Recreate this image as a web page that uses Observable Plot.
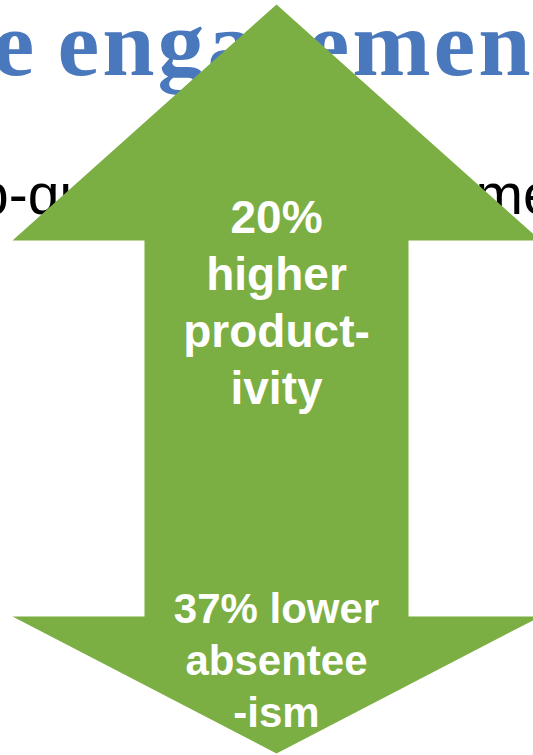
<!DOCTYPE html>
<html>
<head>
<meta charset="utf-8">
<script src="https://cdn.jsdelivr.net/npm/d3@7"></script>
<script src="https://cdn.jsdelivr.net/npm/@observablehq/plot@0.6"></script>
<style>
  html, body { margin: 0; padding: 0; background: #ffffff; }
  #chart svg { display: block; }
</style>
</head>
<body>
<div id="chart"></div>
<script>
// Headline words and sub-line fragments behind the arrow
const headlineWords = ["e", "engagement"];
const subLineLeft = "top-qu";
const subLineRight = "me";

// Outcome figures shown on the arrow
const productivityGain = 20;   // % higher productivity
const absenteeismDrop = 37;    // % lower absenteeism

const upperLabel = [`${productivityGain}%`, "higher", "product-", "ivity"];
const lowerLabel = [`${absenteeismDrop}% lower`, "absentee", "-ism"];

// Double-headed arrow outline (page units, y grows downward)
const arrowX = [276, 540, 408, 408, 540, 276, 12, 144, 144, 12];
const arrowY = [4, 240, 240, 616, 616, 753, 616, 616, 240, 240];

const W = 533, H = 755;
const green = "#7bae43";
const blue = "#4a78bd";

const arrow = arrowX.map((x, i) => ({x, y: arrowY[i]}));

// Word and line layout
const headlineStarts = [-8, 57];
const headline = headlineWords.map((t, i) => ({t, x: headlineStarts[i]}));
const upperLines = upperLabel.map((t, i) => ({t, y: 232 + i * 57}));
const lowerLines = lowerLabel.map((t, i) => ({t, y: 622 + i * 52}));

const sans = "Liberation Sans, Arial, sans-serif";

const chart = Plot.plot({
  width: W,
  height: H,
  margin: 0,
  style: "overflow: hidden; background: #ffffff;",
  x: {domain: [0, W], range: [0, W], axis: null},
  y: {domain: [0, H], range: [0, H], axis: null},
  marks: [
    Plot.text(headline, {
      x: "x", y: () => 74, text: "t",
      textAnchor: "start", lineAnchor: "bottom",
      fontFamily: "Liberation Serif, Times New Roman, serif",
      fontWeight: "bold", fontSize: 94, fill: blue
    }),
    Plot.text([subLineLeft], {
      x: () => -71, y: () => 213, text: d => d,
      textAnchor: "start", lineAnchor: "bottom",
      fontFamily: sans, fontSize: 57, fill: "#000000"
    }),
    Plot.text([subLineRight], {
      x: () => 475, y: () => 213, text: d => d,
      textAnchor: "start", lineAnchor: "bottom",
      fontFamily: sans, fontSize: 57, fill: "#000000"
    }),
    Plot.line(arrow, {x: "x", y: "y", fill: green, stroke: "none", curve: "linear"}),
    Plot.text(upperLines, {
      x: () => 276, y: "y", text: "t",
      textAnchor: "middle", lineAnchor: "bottom",
      fontFamily: sans, fontWeight: "bold", fontSize: 46, fill: "#ffffff"
    }),
    Plot.text(lowerLines, {
      x: () => 276, y: "y", text: "t",
      textAnchor: "middle", lineAnchor: "bottom",
      fontFamily: sans, fontWeight: "bold", fontSize: 42, fill: "#ffffff"
    })
  ]
});

// Slightly open tracking on the headline
d3.select(chart).selectAll("text")
  .filter(function() { return this.textContent === "engagement"; })
  .style("letter-spacing", "3px");

document.getElementById("chart").appendChild(chart);
</script>
</body>
</html>
